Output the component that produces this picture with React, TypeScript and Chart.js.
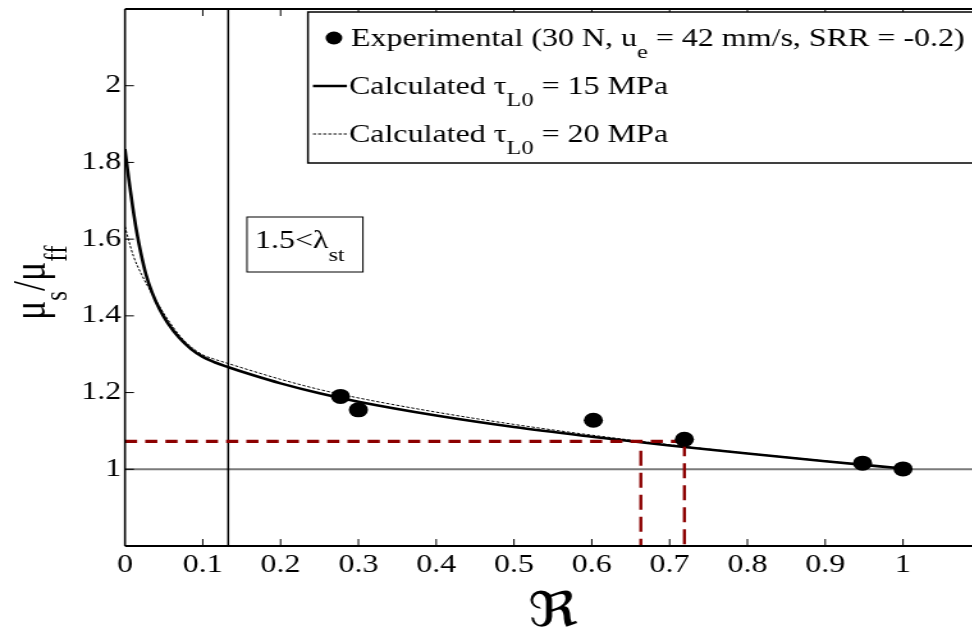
import React, { useEffect, useRef } from 'react';
import { Chart, registerables } from 'chart.js';

Chart.register(...registerables);

// ---------------- data ----------------
const expR = [0.277, 0.3, 0.602, 0.719, 0.948, 1.0];
const expMu = [1.19, 1.155, 1.128, 1.078, 1.016, 1.001];

const calc15R = [0, 0.005, 0.01, 0.015, 0.02, 0.027, 0.035, 0.045, 0.055, 0.07, 0.085, 0.1, 0.115, 0.133, 0.165, 0.2, 0.25, 0.3, 0.4, 0.5, 0.6, 0.7, 0.8, 0.9, 1.0];
const calc15Mu = [1.835, 1.755, 1.683, 1.62, 1.568, 1.508, 1.46, 1.415, 1.381, 1.342, 1.3135, 1.293, 1.279, 1.266, 1.245, 1.224, 1.198, 1.176, 1.14, 1.11, 1.085, 1.062, 1.041, 1.021, 1.002];

const calc20R = [0, 0.005, 0.011, 0.021, 0.035, 0.05, 0.07, 0.085, 0.1, 0.115, 0.133, 0.165, 0.2, 0.25, 0.3, 0.4, 0.5, 0.6, 0.7, 0.8, 0.9, 1.0];
const calc20Mu = [1.633, 1.595, 1.555, 1.509, 1.457, 1.406, 1.349, 1.319, 1.2985, 1.287, 1.2755, 1.2555, 1.2345, 1.208, 1.186, 1.149, 1.117, 1.089, 1.064, 1.042, 1.022, 1.002];

const lambdaLimitR = 0.1327;
const refMu = 1.0;
const readMu = 1.073;
const readR1 = 0.663;
const readR1Top = 1.048;
const readR2 = 0.719;

const X_MIN = 0;
const X_MAX = 1.1;
const Y_MIN = 0.8;
const Y_MAX = 2.2;

type Part = { t: string; sub?: boolean };
const legendRows: Part[][] = [
  [{ t: 'Experimental (30 N, u' }, { t: 'e', sub: true }, { t: ' = 42 mm/s, SRR = -0.2)' }],
  [{ t: 'Calculated \u03c4' }, { t: 'L0', sub: true }, { t: ' = 15 MPa' }],
  [{ t: 'Calculated \u03c4' }, { t: 'L0', sub: true }, { t: ' = 20 MPa' }],
];
const boxLabel: Part[] = [{ t: '1.5<\u03bb' }, { t: 'st', sub: true }];
const yLabel: Part[] = [{ t: '\u03bc' }, { t: 's', sub: true }, { t: '/\u03bc' }, { t: 'ff', sub: true }];
const xLabel = '\u211c';

// ---------------- geometry ----------------
const S = 1.28; // horizontal stretch of the figure
const W = 790;
const H = 634;
const SERIF = '"Liberation Serif", "Times New Roman", serif';

const pts = (xs: number[], ys: number[]) => xs.map((x, i) => ({ x, y: ys[i] }));

function drawRich(ctx: CanvasRenderingContext2D, parts: Part[], x: number, base: number, size: number, subSize: number, drop: number) {
  let cx = x;
  for (const p of parts) {
    ctx.font = `${p.sub ? subSize : size}px ${SERIF}`;
    ctx.fillText(p.t, cx, p.sub ? base + drop : base);
    cx += ctx.measureText(p.t).width;
  }
}

const fmt = (n: number) => (Math.abs(n - Math.round(n)) < 1e-6 ? String(Math.round(n)) : n.toFixed(1));

const overlay = {
  id: 'overlay',
  afterDraw(chart: any) {
    const ctx: CanvasRenderingContext2D = chart.ctx;
    const { left, right, top, bottom } = chart.chartArea;
    const xs = chart.scales.x;
    const ys = chart.scales.y;
    ctx.save();
    ctx.strokeStyle = '#000';
    ctx.fillStyle = '#000';
    ctx.setLineDash([]);

    // frame
    ctx.lineWidth = 2;
    ctx.beginPath();
    ctx.moveTo(left, top); ctx.lineTo(right, top);
    ctx.moveTo(left, bottom); ctx.lineTo(right, bottom);
    ctx.stroke();
    ctx.lineWidth = 1.6;
    ctx.beginPath();
    ctx.moveTo(left, top); ctx.lineTo(left, bottom);
    ctx.moveTo(right, top); ctx.lineTo(right, bottom);
    ctx.stroke();

    // inward ticks
    ctx.lineWidth = 1;
    ctx.beginPath();
    xs.ticks.forEach((t: any) => {
      if (t.value <= X_MIN + 1e-6 || t.value >= X_MAX - 1e-6) return;
      const px = xs.getPixelForValue(t.value);
      ctx.moveTo(px, bottom); ctx.lineTo(px, bottom - 7);
      ctx.moveTo(px, top); ctx.lineTo(px, top + 7);
    });
    ys.ticks.forEach((t: any) => {
      if (t.value <= Y_MIN + 1e-6 || t.value >= Y_MAX - 1e-6) return;
      const py = ys.getPixelForValue(t.value);
      ctx.moveTo(left, py); ctx.lineTo(left + 7, py);
    });
    ctx.stroke();

    ctx.textAlign = 'left';
    ctx.textBaseline = 'alphabetic';

    // annotation box
    ctx.fillStyle = '#fff';
    ctx.fillRect(247 / S, 217, 116 / S, 55);
    ctx.lineWidth = 1;
    ctx.strokeRect(247 / S, 217, 116 / S, 55);
    ctx.fillStyle = '#000';
    drawRich(ctx, boxLabel, 255 / S, 248, 25, 19, 13);

    // legend
    const lx = 308 / S;
    ctx.fillStyle = '#fff';
    ctx.fillRect(lx, 12, W, 151);
    ctx.lineWidth = 1.5;
    ctx.strokeRect(lx, 12, W, 151);
    ctx.fillStyle = '#000';
    const rowY = [38, 86, 134];
    ctx.beginPath();
    ctx.arc(334 / S, rowY[0], 6.5, 0, Math.PI * 2);
    ctx.fill();
    ctx.lineWidth = 2.5;
    ctx.beginPath();
    ctx.moveTo(313 / S, rowY[1]); ctx.lineTo(347 / S, rowY[1]);
    ctx.stroke();
    ctx.lineWidth = 1;
    ctx.setLineDash([2.5, 1.5]);
    ctx.beginPath();
    ctx.moveTo(313 / S, rowY[2]); ctx.lineTo(347 / S, rowY[2]);
    ctx.stroke();
    ctx.setLineDash([]);
    drawRich(ctx, legendRows[0], 351 / S, rowY[0] + 8, 25, 19, 12);
    drawRich(ctx, legendRows[1], 349 / S, rowY[1] + 8, 25, 19, 12);
    drawRich(ctx, legendRows[2], 349 / S, rowY[2] + 8, 25, 19, 12);

    // y label (rotated)
    ctx.save();
    ctx.translate(45 / S, 320);
    ctx.rotate(-Math.PI / 2);
    drawRich(ctx, yLabel, 0, 0, 36, 25, 17);
    ctx.restore();

    // x label
    ctx.font = `48px "DejaVu Serif", "DejaVu Sans", serif`;
    ctx.textAlign = 'center';
    ctx.fillText(xLabel, 553 / S, 626);

    ctx.restore();
  },
};

export default function App() {
  const ref = useRef<HTMLCanvasElement | null>(null);

  useEffect(() => {
    if (!ref.current) return;
    const red = '#8c0000';
    const chart = new Chart(ref.current, {
      type: 'scatter',
      data: {
        datasets: [
          {
            label: 'Experimental',
            data: pts(expR, expMu),
            showLine: false,
            pointRadius: 7.5,
            pointBackgroundColor: '#000',
            pointBorderWidth: 0,
            order: 0,
          },
          {
            label: 'read-h',
            data: [{ x: X_MIN, y: readMu }, { x: readR2, y: readMu }],
            showLine: true, pointRadius: 0, borderColor: red, borderWidth: 3.2, borderDash: [9.5, 6.3],
            order: 1,
          },
          {
            label: 'read-v2',
            data: [{ x: readR2, y: readMu }, { x: readR2, y: Y_MIN }],
            showLine: true, pointRadius: 0, borderColor: red, borderWidth: 2.4, borderDash: [15, 7],
            order: 1,
          },
          {
            label: 'read-v1',
            data: [{ x: readR1, y: readR1Top }, { x: readR1, y: Y_MIN }],
            showLine: true, pointRadius: 0, borderColor: red, borderWidth: 2.4, borderDash: [15, 7],
            order: 1,
          },
          {
            label: 'Calculated 15 MPa',
            data: pts(calc15R, calc15Mu),
            showLine: true, pointRadius: 0, borderColor: '#000', borderWidth: 2.6,
            cubicInterpolationMode: 'monotone',
            order: 2,
          },
          {
            label: 'Calculated 20 MPa',
            data: pts(calc20R, calc20Mu),
            showLine: true, pointRadius: 0, borderColor: '#000', borderWidth: 1, borderDash: [2.5, 1.5],
            cubicInterpolationMode: 'monotone',
            order: 3,
          },
          {
            label: 'lambda',
            data: [{ x: lambdaLimitR, y: Y_MIN }, { x: lambdaLimitR, y: Y_MAX }],
            showLine: true, pointRadius: 0, borderColor: '#000', borderWidth: 1.5,
            order: 4,
          },
          {
            label: 'ref',
            data: [{ x: X_MIN, y: refMu }, { x: X_MAX, y: refMu }],
            showLine: true, pointRadius: 0, borderColor: '#7a7a7a', borderWidth: 2,
            order: 5,
          },
        ],
      },
      options: {
        responsive: false,
        animation: false,
        devicePixelRatio: 1,
        events: [],
        layout: { padding: { left: 0, top: 9, right: W - 981 / S, bottom: 0 } },
        plugins: { legend: { display: false }, tooltip: { enabled: false }, title: { display: false } },
        scales: {
          x: {
            type: 'linear',
            min: X_MIN,
            max: X_MAX,
            grid: { display: false, drawTicks: false },
            border: { display: false },
            ticks: {
              stepSize: 0.1,
              autoSkip: false,
              maxRotation: 0,
              padding: 4,
              color: '#000',
              font: { family: SERIF, size: 25 },
              callback: (v: any) => (Number(v) > 1.05 ? null : fmt(Number(v))),
            },
            afterFit: (s: any) => { s.height = 88; s.paddingLeft = 0; s.paddingRight = 0; },
          },
          y: {
            type: 'linear',
            min: Y_MIN,
            max: Y_MAX,
            grid: { display: false, drawTicks: false },
            border: { display: false },
            ticks: {
              stepSize: 0.2,
              autoSkip: false,
              padding: 3,
              color: '#000',
              font: { family: SERIF, size: 25 },
              callback: (v: any) => {
                const n = Number(v);
                return n < 0.9 || n > 2.1 ? null : fmt(n);
              },
            },
            afterFit: (s: any) => { s.width = 125 / S; s.paddingTop = 0; s.paddingBottom = 0; },
          },
        },
      } as any,
      plugins: [overlay],
    });
    return () => chart.destroy();
  }, []);

  return (
    <div style={{ position: 'fixed', left: 0, top: 0, width: 972, height: 634, overflow: 'hidden', background: '#fff' }}>
      <canvas ref={ref} width={W} height={H} style={{ display: 'block', width: `${W * S}px`, height: `${H}px` }} />
    </div>
  );
}
